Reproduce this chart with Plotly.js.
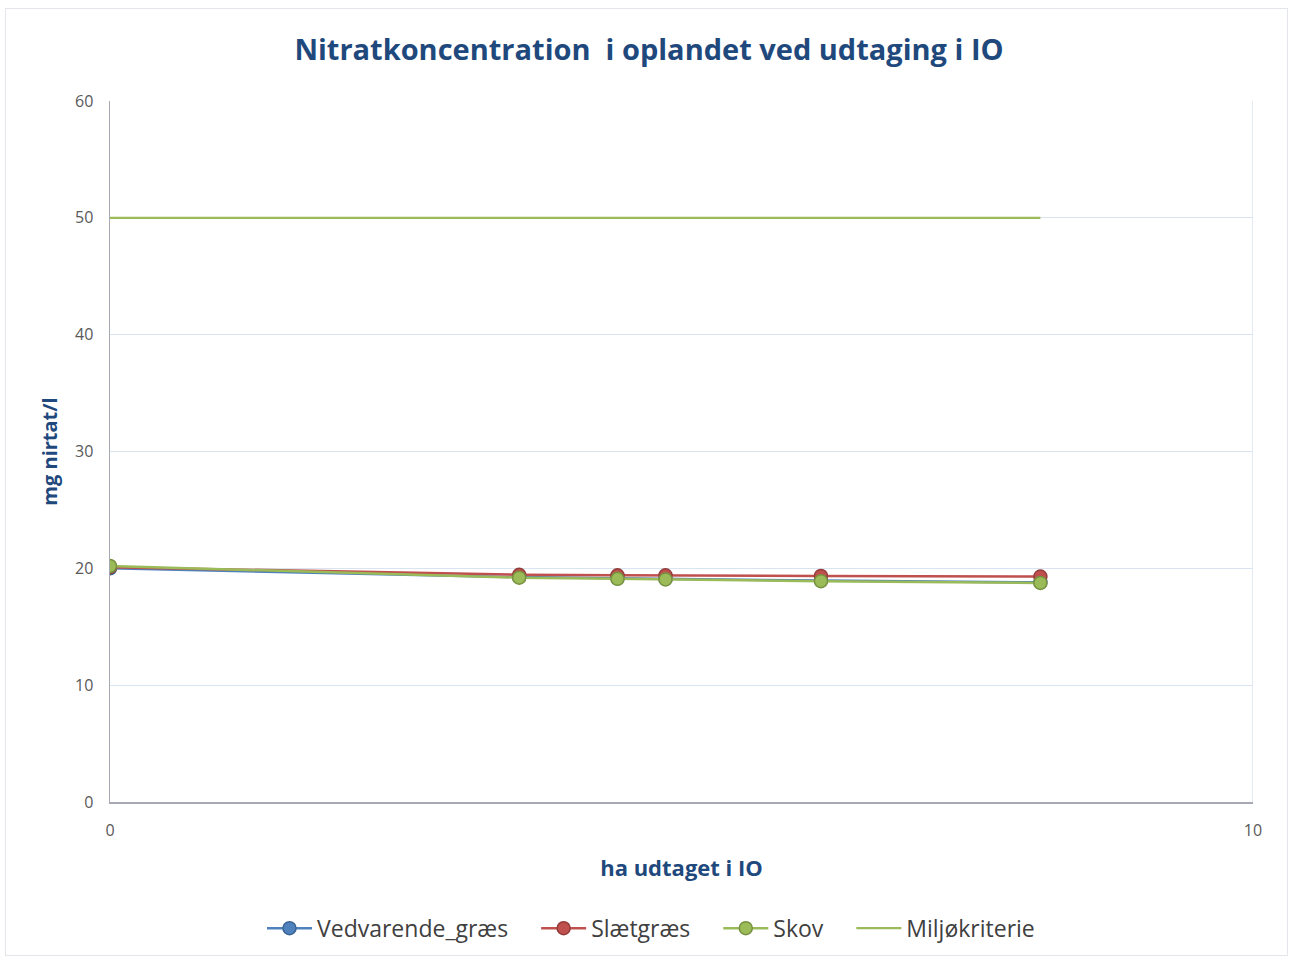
<!DOCTYPE html>
<html>
<head>
<meta charset="utf-8">
<script src="https://cdn.plot.ly/plotly-3.0.1.min.js"></script>
<style>
html,body{margin:0;padding:0;background:#fff;}
#chart{position:absolute;left:0;top:0;width:1290px;height:959px;}
#frame{position:absolute;left:5px;top:8px;width:1281px;height:946px;border:1px solid #E3E6EA;pointer-events:none;}
</style>
</head>
<body>
<div id="chart"></div>
<div id="frame"></div>
<script>
// Data
const haUdtaget = [0, 3.58, 4.44, 4.86, 6.22, 8.14];
const vedvarendeGraes = [20.0, 19.25, 19.15, 19.1, 18.95, 18.8];
const slaetgraes = [20.1, 19.45, 19.4, 19.4, 19.35, 19.3];
const skov = [20.2, 19.2, 19.1, 19.05, 18.9, 18.75];
const miljoekriterie = [50, 50, 50, 50, 50, 50];
const seriesNames = ['Vedvarende_græs', 'Slætgræs', 'Skov', 'Miljøkriterie'];
const yTicks = [0, 10, 20, 30, 40, 50, 60];
const xTicks = [0, 10];

const titleColor = '#1F497D';
const font = 'Open Sans, Liberation Sans, sans-serif';
const pad = '\u2003';

function pointTrace(name, y, color, edge) {
  return {
    x: haUdtaget, y: y, name: name + pad, type: 'scatter', mode: 'lines+markers',
    line: {color: color, width: 2.5},
    marker: {color: color, size: 13, line: {color: edge, width: 1.5}}
  };
}

const data = [
  pointTrace(seriesNames[0], vedvarendeGraes, '#4F81BD', '#3A6496'),
  pointTrace(seriesNames[1], slaetgraes, '#C0504D', '#943C3A'),
  pointTrace(seriesNames[2], skov, '#9BBB59', '#77923F'),
  {x: haUdtaget, y: miljoekriterie, name: seriesNames[3], type: 'scatter', mode: 'lines',
   line: {color: '#9BBB59', width: 2.2}}
];

const layout = {
  width: 1290, height: 959,
  paper_bgcolor: 'rgba(0,0,0,0)', plot_bgcolor: '#fff',
  margin: {l: 110, r: 37, t: 101, b: 157, autoexpand: false},
  font: {family: font, color: '#595959'},
  title: {text: 'Nitratkoncentration  i oplandet ved udtaging i IO',
          font: {family: font, size: 29, color: titleColor, weight: 'bold'},
          x: 649/1290, xanchor: 'center', xref: 'container', y: 1 - 50/959, yref: 'container', yanchor: 'middle'},
  xaxis: {
    range: [0, 10], tickvals: xTicks, ticktext: xTicks.map(String),
    showgrid: true, gridcolor: '#D9E4F0', gridwidth: 1.3,
    showline: true, linecolor: '#A6A9B3', linewidth: 1.5,
    zeroline: false, ticks: 'outside', ticklen: 13, tickcolor: 'rgba(0,0,0,0)',
    tickfont: {size: 16, color: '#595959'},
    title: {text: 'ha udtaget i IO', font: {family: font, size: 22, color: titleColor, weight: 'bold'}, standoff: 21}
  },
  yaxis: {
    range: [0, 60], tickvals: yTicks, ticktext: yTicks.map(String),
    showgrid: true, gridcolor: '#D9E4F0', gridwidth: 1.3,
    showline: true, linecolor: '#A6A9B3', linewidth: 1.5,
    zeroline: false, ticks: 'outside', ticklen: 12, tickcolor: 'rgba(0,0,0,0)',
    tickfont: {size: 16, color: '#595959'},
    title: {text: 'mg nirtat/l', font: {family: font, size: 20, color: titleColor, weight: 'bold'}, standoff: 12}
  },
  shapes: [
    {type: 'line', xref: 'x', x0: 10, x1: 10, yref: 'paper', y0: 0, y1: 1,
     line: {color: '#D9E4F0', width: 1.5}, layer: 'below'}
  ],
  showlegend: true,
  legend: {orientation: 'h', x: (651 - 110)/1143, xanchor: 'center', y: -0.18, yanchor: 'middle',
           font: {family: font, size: 23, color: '#404040'}, itemwidth: 45,
           traceorder: 'normal', bgcolor: 'rgba(0,0,0,0)'}
};

Plotly.newPlot('chart', data, layout, {displayModeBar: false, staticPlot: true});
</script>
</body>
</html>
